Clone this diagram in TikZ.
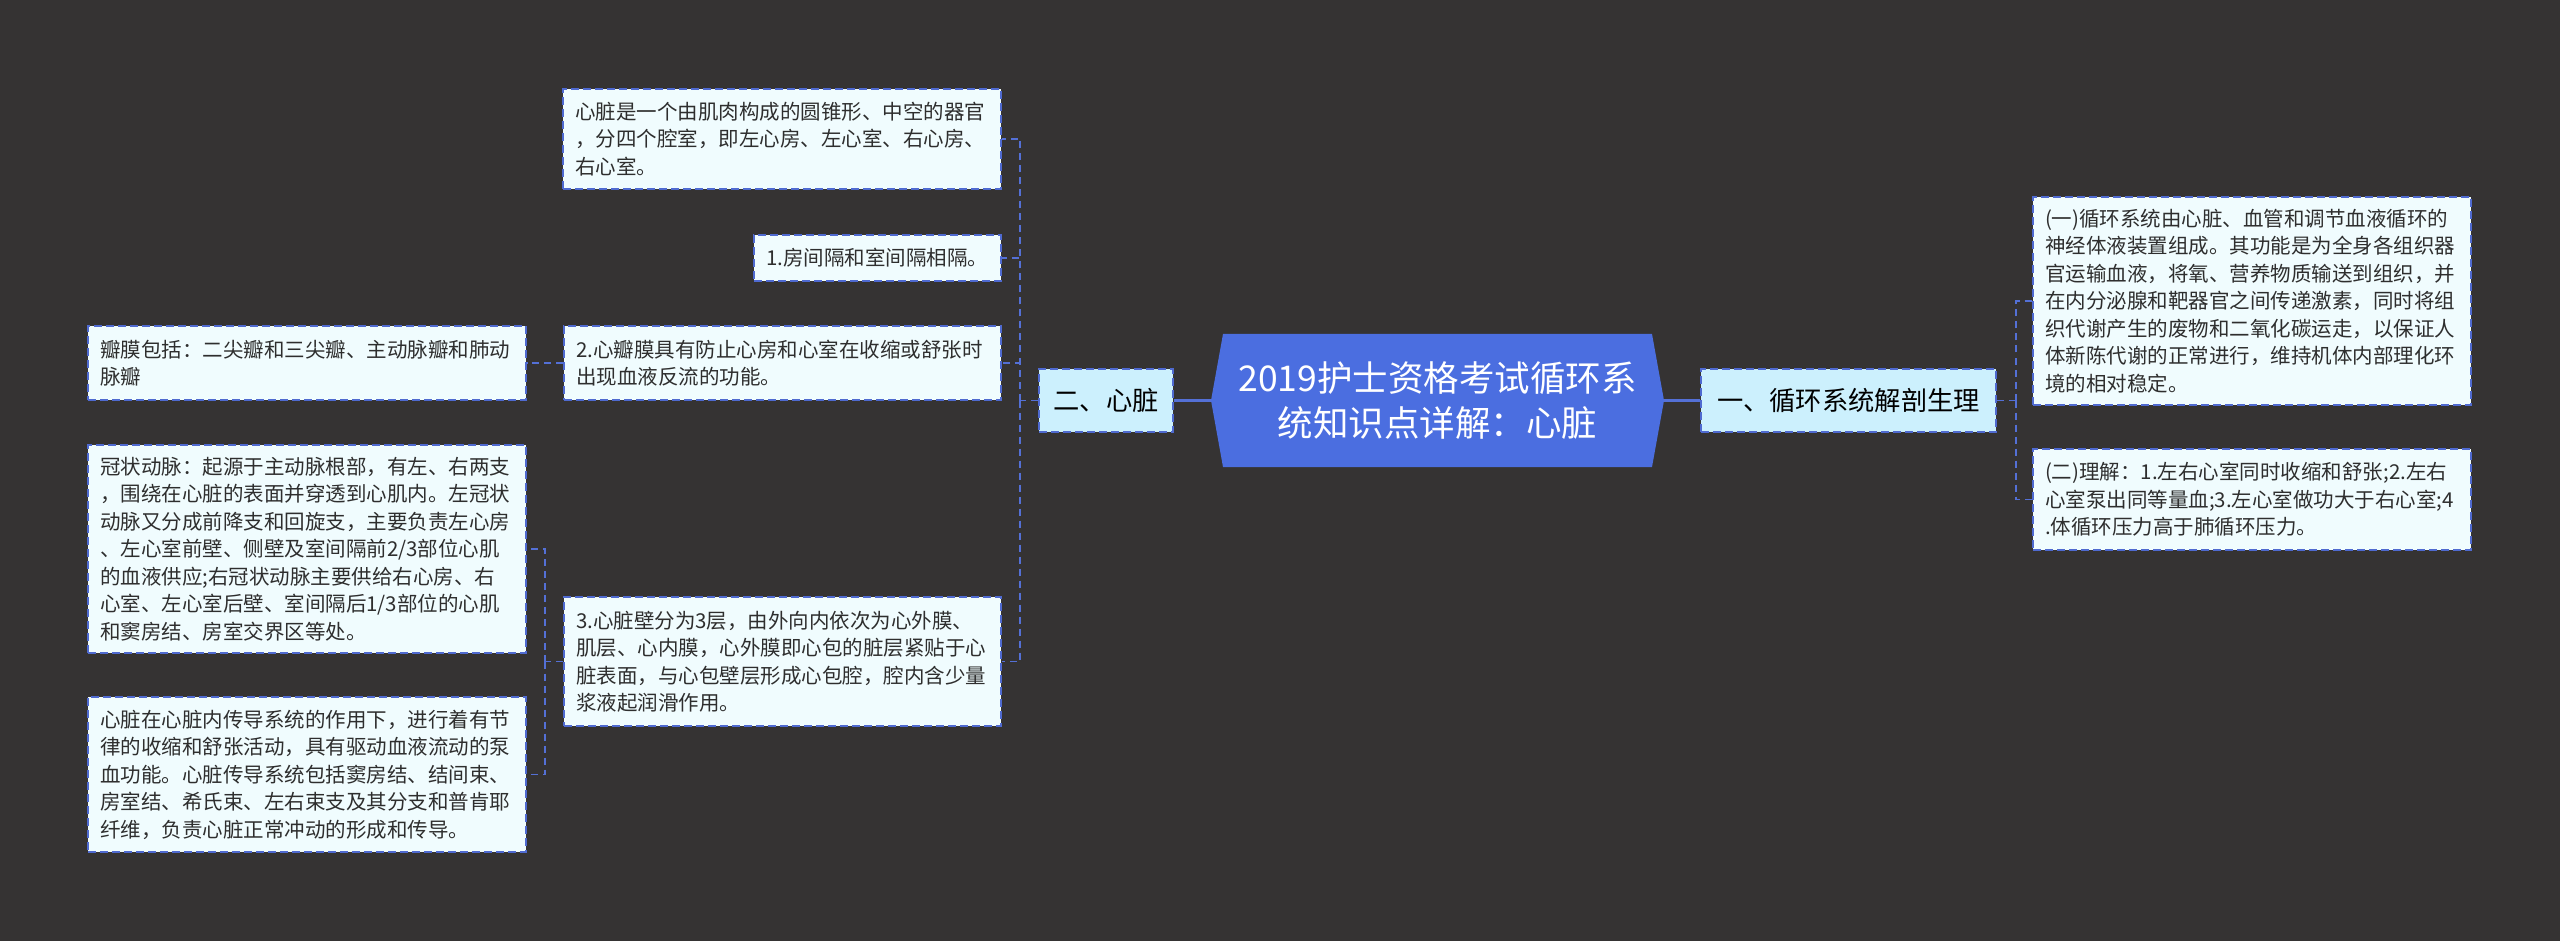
\documentclass[tikz,border=0pt]{standalone}
\usepackage{fontspec}
\setmainfont{Noto Sans CJK SC}
\definecolor{bgc}{HTML}{353333}
\definecolor{hexblue}{HTML}{4B6EE0}
\definecolor{bordc}{HTML}{4F6AD0}
\definecolor{lonefill}{HTML}{CCF0FD}
\definecolor{leaffill}{HTML}{F0FCFE}
\definecolor{linec}{HTML}{5470D6}
\definecolor{txtc}{HTML}{2E2E2E}
\tikzset{
  leaf/.style={draw=bordc, line width=1.6pt, dash pattern=on 8pt off 4pt, fill=leaffill,
    text=txtc, align=left, inner xsep=12pt, inner ysep=0pt,
    font=\fontsize{20.5}{27.5}\selectfont},
  lone/.style={draw=bordc, line width=1.6pt, dash pattern=on 8pt off 4pt, fill=lonefill,
    text=black, align=center, inner sep=0pt, minimum height=63pt,
    font=\fontsize{26.3}{32}\selectfont},
  conn/.style={draw=linec, line width=1.6pt, dash pattern=on 7pt off 5pt},
  mainconn/.style={draw=linec, line width=3pt},
  hexnode/.style={inner sep=0pt, minimum width=453pt, minimum height=133pt, text=white,
    align=center, font=\fontsize{35.5}{45}\selectfont,
    path picture={\fill[hexblue] ([xshift=12pt]path picture bounding box.north west)
      -- ([xshift=-12pt]path picture bounding box.north east)
      -- (path picture bounding box.east)
      -- ([xshift=-12pt]path picture bounding box.south east)
      -- ([xshift=12pt]path picture bounding box.south west)
      -- (path picture bounding box.west) -- cycle;}}
}
\begin{document}
\begin{tikzpicture}[x=1pt,y=-1pt]
\useasboundingbox (0,0) rectangle (2560,941);
\fill[bgc] (0,0) rectangle (2560,941);

% center
\node[hexnode] (C) at (1437.5,400.5) {2019护士资格考试循环系\\统知识点详解：心脏};

% level one
\node[lone, minimum width=134pt] (B2) at (1106,400.5) {二、心脏};
\node[lone, minimum width=295pt] (B1) at (1848.5,400.5) {一、循环系统解剖生理};

% left leaves
\node[leaf, minimum width=438pt, minimum height=100pt, text width=414pt] (L1) at (782,139)
 {心脏是一个由肌肉构成的圆锥形、中空的器官\\，分四个腔室，即左心房、左心室、右心房、\\右心室。};
\node[leaf, minimum width=247pt, minimum height=46pt, text width=223pt] (L2) at (877.5,258)
 {1.房间隔和室间隔相隔。};
\node[leaf, minimum width=437pt, minimum height=74pt, text width=413pt] (L3) at (782.5,363)
 {2.心瓣膜具有防止心房和心室在收缩或舒张时\\出现血液反流的功能。};
\node[leaf, minimum width=438pt, minimum height=74pt, text width=414pt] (L3a) at (307,363)
 {瓣膜包括：二尖瓣和三尖瓣、主动脉瓣和肺动\\脉瓣};
\node[leaf, minimum width=437pt, minimum height=129pt, text width=413pt] (L4) at (782.5,661.5)
 {3.心脏壁分为3层，由外向内依次为心外膜、\\肌层、心内膜，心外膜即心包的脏层紧贴于心\\脏表面，与心包壁层形成心包腔，腔内含少量\\浆液起润滑作用。};
\node[leaf, minimum width=438pt, minimum height=208pt, text width=414pt] (L4a) at (307,549)
 {冠状动脉：起源于主动脉根部，有左、右两支\\，围绕在心脏的表面并穿透到心肌内。左冠状\\动脉又分成前降支和回旋支，主要负责左心房\\、左心室前壁、侧壁及室间隔前2/3部位心肌\\的血液供应;右冠状动脉主要供给右心房、右\\心室、左心室后壁、室间隔后1/3部位的心肌\\和窦房结、房室交界区等处。};
\node[leaf, minimum width=438pt, minimum height=155pt, text width=414pt] (L4b) at (307,774.5)
 {心脏在心脏内传导系统的作用下，进行着有节\\律的收缩和舒张活动，具有驱动血液流动的泵\\血功能。心脏传导系统包括窦房结、结间束、\\房室结、希氏束、左右束支及其分支和普肯耶\\纤维，负责心脏正常冲动的形成和传导。};

% right leaves
\node[leaf, minimum width=438pt, minimum height=208pt, text width=414pt] (R1) at (2252,301)
 {(一)循环系统由心脏、血管和调节血液循环的\\神经体液装置组成。其功能是为全身各组织器\\官运输血液，将氧、营养物质输送到组织，并\\在内分泌腺和靶器官之间传递激素，同时将组\\织代谢产生的废物和二氧化碳运走，以保证人\\体新陈代谢的正常进行，维持机体内部理化环\\境的相对稳定。};
\node[leaf, minimum width=438pt, minimum height=101pt, text width=414pt] (R2) at (2252,499.5)
 {(二)理解：1.左右心室同时收缩和舒张;2.左右\\心室泵出同等量血;3.左心室做功大于右心室;4\\.体循环压力高于肺循环压力。};

% main connectors
\draw[mainconn] (C.west) -- (B2.east);
\draw[mainconn] (C.east) -- (B1.west);

% left brackets
\coordinate (jl) at (1020,400.5);
\draw[conn] (B2.west) -- (jl);
\draw[conn] (jl) |- (L1.east);
\draw[conn] (jl) |- (L2.east);
\draw[conn] (jl) |- (L3.east);
\draw[conn] (jl) |- (L4.east);
\draw[conn] (L3.west) -- (L3a.east);
\coordinate (jl2) at (545,661.5);
\draw[conn] (L4.west) -- (jl2);
\draw[conn] (jl2) |- (L4a.east);
\draw[conn] (jl2) |- (L4b.east);

% right bracket
\coordinate (jr) at (2016,400.5);
\draw[conn] (B1.east) -- (jr);
\draw[conn] (jr) |- (R1.west);
\draw[conn] (jr) |- (R2.west);
\end{tikzpicture}
\end{document}
